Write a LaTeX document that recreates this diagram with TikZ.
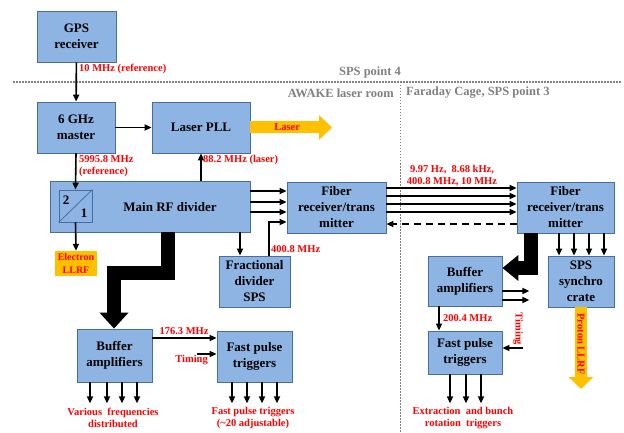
\documentclass[tikz,border=0pt]{standalone}
\usepackage{fontspec}
\setmainfont{Liberation Serif}
\usepackage{xcolor}
\usetikzlibrary{arrows.meta, positioning, calc}

\definecolor{boxfill}{RGB}{141,180,226}
\definecolor{boxline}{RGB}{70,110,160}
\definecolor{llrf}{RGB}{255,192,0}
\definecolor{sigred}{RGB}{255,0,0}
\definecolor{zone}{RGB}{128,128,128}

\begin{document}
\begin{tikzpicture}[
  x=1pt, y=-1pt,
  blk/.style={rectangle, draw=boxline, fill=boxfill, line width=0.8pt, align=center,
              inner sep=0pt, font=\bfseries\fontsize{13}{16}\selectfont},
  lbl/.style={text=sigred, inner sep=0pt, align=center,
              font=\bfseries\fontsize{10.5}{12.5}\selectfont},
  zonelbl/.style={text=zone, inner sep=0pt, font=\bfseries\fontsize{12.5}{14}\selectfont},
  sig/.style={line width=1.6pt, -{Triangle[length=7pt,width=6pt]}},
  bus/.style={line width=14pt, line join=miter, draw=black},
  beam/.style={line width=12pt, draw=llrf},
  border/.style={draw=zone, line width=1.5pt, dash pattern=on 1.5pt off 1.5pt}]
  \useasboundingbox (0,0) rectangle (624,433);

  % zone borders
  \draw[border] (13,82) -- (622,82);
  \draw[border] (400.5,82) -- (400.5,433);
  \node[zonelbl] (pt4) at (370,72) {SPS point 4};
  \node[zonelbl, anchor=east] (laserroom) at (394,93) {AWAKE laser room};
  \node[zonelbl, anchor=west] (faraday) at (406,93) {Faraday Cage, SPS point 3};

  % blocks
  \node[blk, minimum width=79, minimum height=51] (gps) at (76.5,36.5) {GPS\\receiver};
  \node[blk, minimum width=78, minimum height=51] (master) at (76,127.5) {6 GHz\\master};
  \node[blk, minimum width=98, minimum height=51] (pll) at (201,127.5) {Laser PLL};
  \node[blk, minimum width=200, minimum height=51] (rfdiv) at (150,206.5) {};
  \node[font=\bfseries\fontsize{13}{16}\selectfont, inner sep=0pt] (rfdivtxt) at (170,207) {Main RF divider};
  \node[draw=boxline, line width=0.8pt, minimum width=33, minimum height=32, inner sep=0pt] (ratio) at (75.5,206) {};
  \draw[boxline, line width=0.8pt] (ratio.south west) -- (ratio.north east);
  \node[font=\bfseries\fontsize{13}{16}\selectfont, inner sep=0pt] (num) at (66,200) {2};
  \node[font=\bfseries\fontsize{13}{16}\selectfont, inner sep=0pt] (den) at (84,213) {1};
  \node[blk, minimum width=99, minimum height=51] (fib1) at (336.5,207.5) {Fiber\\receiver/trans\\mitter};
  \node[blk, minimum width=97, minimum height=51] (fib2) at (565.5,207.5) {Fiber\\receiver/trans\\mitter};
  \node[blk, minimum width=71, minimum height=51] (frac) at (254.5,281.5) {Fractional\\divider\\SPS};
  \node[rectangle, fill=llrf, minimum width=42, minimum height=25, inner sep=0pt, align=center,
        text=sigred, font=\bfseries\fontsize{10}{12.5}\selectfont] (elec) at (76,263.5) {Electron\\LLRF};
  \node[blk, minimum width=75, minimum height=53] (buf1) at (114.5,355.5) {Buffer\\amplifiers};
  \node[blk, minimum width=75, minimum height=51] (fpt1) at (254.5,356.5) {Fast pulse\\triggers};
  \node[blk, minimum width=74, minimum height=50] (buf2) at (465,281) {Buffer\\amplifiers};
  \node[blk, minimum width=74, minimum height=43] (fpt2) at (465,352.5) {Fast pulse\\triggers};
  \node[blk, minimum width=66, minimum height=51] (sync) at (581,281.5) {SPS\\synchro\\crate};

  % reference chain
  \draw[sig] (gps) -- (master);
  \node[lbl, anchor=west] (ref10) at (79,69) {10 MHz (reference)};
  \draw[sig] (master) -- (pll);
  \draw[sig] (master.south) -- (ratio.north);
  \node[lbl, anchor=west, align=left] (ref6) at (79,166) {5995.8 MHz\\(reference)};
  \draw[sig] (rfdiv.north -| pll) -- (pll.south);
  \node[lbl, anchor=west] (las88) at (203,160) {88.2 MHz (laser)};
  \draw[sig] (ratio.south) -- (elec.north);

  % laser output
  \draw[beam, -{Triangle[length=13pt,width=24pt]}] (pll.east) -- (332,127.5)
    node[lbl, pos=0.45] (laser) {Laser};

  % main divider outputs
  \foreach \y in {191,202,212}
    \draw[sig] (rfdiv.east |- 0,\y) -- (fib1.west |- 0,\y);
  \draw[sig] (rfdiv.south -| 240,0) -- (frac.north -| 240,0);
  \draw[sig] (frac.north -| 269,0) |- (fib1.west |- 0,222);
  \node[lbl, anchor=west] (f400) at (271,249) {400.8 MHz};
  \draw[bus, -{Triangle[length=16pt,width=28pt]}] (rfdiv.south -| 167.5,0) -- (167.5,272.5)
    -- (114,272.5) -- (buf1.north -| 114,0);

  % fibre link
  \foreach \y in {188,196,204,212}
    \draw[sig] (fib1.east |- 0,\y) -- (fib2.west |- 0,\y);
  \draw[sig, dash pattern=on 7pt off 5pt] (fib2.west |- 0,224) -- (fib1.east |- 0,224);
  \node[lbl] (link) at (452,175.5) {9.97 Hz,\ \ 8.68 kHz,\\400.8 MHz, 10 MHz};

  % left distribution
  \draw[sig] (buf1.east |- 0,338) -- (fpt1.west |- 0,338);
  \node[lbl] (f176) at (184,331) {176.3 MHz};
  \coordinate (tim1) at (197,354);
  \draw[sig] (tim1) -- (fpt1.west |- tim1);
  \node[lbl, anchor=east] (tim1lbl) at (208,360) {Timing};
  \foreach \x in {90,107,122,137}
    \draw[sig] (buf1.south -| \x,0) -- ++(0,21);
  \foreach \x in {232,247,262,277}
    \draw[sig] (fpt1.south -| \x,0) -- ++(0,21);
  \node[lbl] (various) at (113,418) {Various\ \ frequencies\\distributed};
  \node[lbl] (fastout) at (253,418) {Fast pulse triggers\\(\textasciitilde20 adjustable)};

  % right distribution
  \foreach \x in {559,574,589,604}
    \draw[sig] (fib2.south -| \x,0) -- (sync.north -| \x,0);
  \draw[bus, -{Triangle[length=16pt,width=25pt]}] (fib2.south -| 531,0) -- (531,268)
    -- (buf2.east |- 0,268);
  \foreach \y in {291,300}
    \draw[sig] (buf2.east |- 0,\y) -- ++(27,0);
  \draw[sig] (buf2.south -| 439,0) -- (fpt2.north -| 439,0);
  \node[lbl, anchor=west] (f200) at (443,318) {200.4 MHz};
  \coordinate (tim2) at (523,348);
  \draw[sig] (tim2) -- (fpt2.east |- tim2);
  \node[lbl, rotate=-90] (tim2lbl) at (518,329) {Timing};
  \foreach \x in {450,466,481}
    \draw[sig] (fpt2.south -| \x,0) -- ++(0,29);
  \node[lbl] (extract) at (463,418) {Extraction\ \ and bunch\\rotation\ \ triggers};
  \draw[beam, -{Triangle[length=12pt,width=24pt]}] (sync.south) -- (581,389)
    node[lbl, rotate=-90, pos=0.45] (proton) {Proton LLRF};
\end{tikzpicture}
\end{document}
